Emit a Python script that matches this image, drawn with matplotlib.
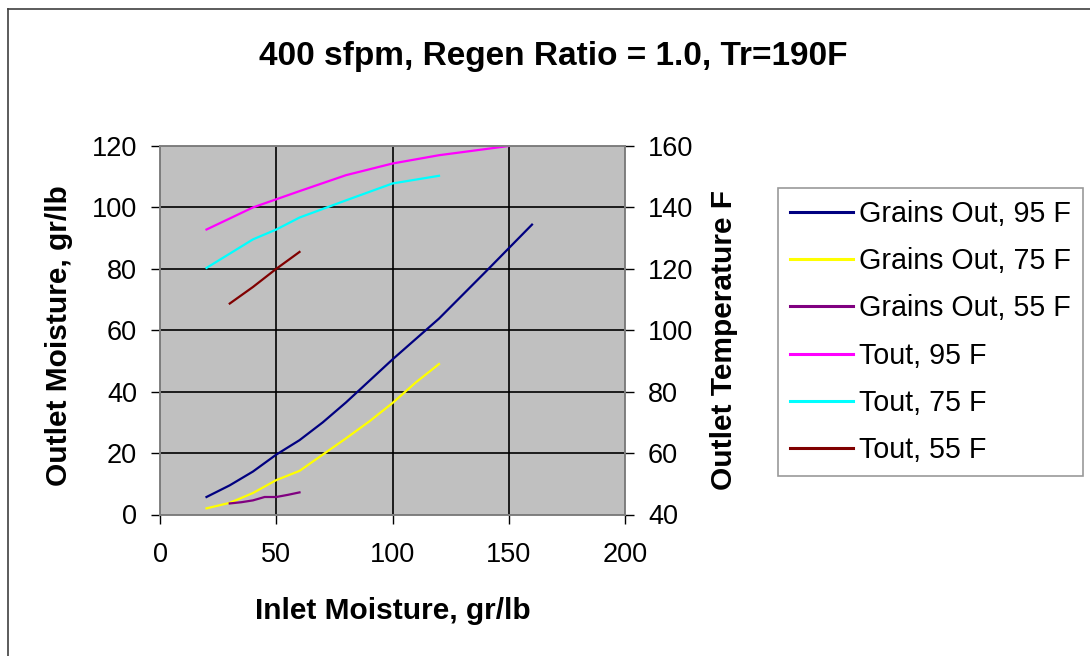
import matplotlib.pyplot as plt
from matplotlib.lines import Line2D

plt.rcParams['font.family'] = ['Liberation Sans', 'DejaVu Sans']

# Outlet moisture (left axis, gr/lb)
x_g95 = [20, 30, 40, 50, 60, 70, 80, 100, 120, 140, 160]
y_g95 = [5.7, 9.5, 14, 19.5, 24.2, 30, 36.5, 50.5, 63.8, 79, 94.4]
x_g75 = [20, 30, 40, 50, 60, 70, 80, 90, 100, 110, 120]
y_g75 = [2, 3.8, 7, 11.2, 14.2, 19.5, 24.8, 30.3, 36.3, 43, 49]
x_g55 = [30, 35, 40, 45, 50, 55, 60]
y_g55 = [3.6, 4.0, 4.6, 5.7, 5.7, 6.4, 7.2]

# Outlet temperature (right axis, F)
x_t95 = [20, 40, 60, 80, 100, 120, 150]
y_t95 = [132.8, 140, 145.3, 150.5, 154.3, 157, 160]
x_t75 = [20, 40, 50, 60, 70, 80, 100, 120]
y_t75 = [120.3, 129.6, 132.8, 136.7, 139.5, 142.3, 147.8, 150.3]
x_t55 = [30, 40, 50, 60]
y_t55 = [108.7, 114.1, 120, 125.5]

W, H = 1090, 656
fig = plt.figure(figsize=(W / 100, H / 100), dpi=100)
ax = fig.add_axes([160 / W, 1 - 514.5 / H, 465 / W, 368.5 / H])
ax2 = ax.twinx()

ax.set_facecolor('#C0C0C0')
lw = 1.6
ax.plot(x_g95, y_g95, color='#000080', lw=lw)
ax.plot(x_g75, y_g75, color='#FFFF00', lw=lw)
ax.plot(x_g55, y_g55, color='#800080', lw=lw)
ax2.plot(x_t95, y_t95, color='#FF00FF', lw=lw)
ax2.plot(x_t75, y_t75, color='#00FFFF', lw=lw)
ax2.plot(x_t55, y_t55, color='#800000', lw=lw)

ax.set_xlim(0, 200)
ax.set_ylim(0, 120)
ax2.set_ylim(40, 160)
ax.set_xticks(range(0, 201, 50))
ax.set_yticks(range(0, 121, 20))
ax2.set_yticks(range(40, 161, 20))
ax.grid(True, color='black', lw=1.2)
ax.set_axisbelow(True)

for a in (ax, ax2):
    a.tick_params(labelsize=19.5, length=6.5, width=1, color='black', pad=10)
    for s in a.spines.values():
        s.set_color('#808080')
        s.set_linewidth(1.2)
ax.tick_params(axis='x', pad=13)

fig.text(392.5 / W, 1 - 619 / H, 'Inlet Moisture, gr/lb', fontsize=21.5,
         fontweight='bold', ha='center', va='baseline')
fig.text(59 / W, 1 - 336 / H, 'Outlet Moisture, gr/lb', fontsize=21.5,
         fontweight='bold', ha='center', va='center', rotation=90)
fig.text(724 / W, 1 - 340 / H, 'Outlet Temperature F', fontsize=21.5,
         fontweight='bold', ha='center', va='center', rotation=90)
fig.text(553.5 / W, 1 - 65 / H, '400 sfpm, Regen Ratio = 1.0, Tr=190F',
         fontsize=24, fontweight='bold', ha='center', va='baseline')

labels = ['Grains Out, 95 F', 'Grains Out, 75 F', 'Grains Out, 55 F',
          'Tout, 95 F', 'Tout, 75 F', 'Tout, 55 F']
colors = ['#000080', '#FFFF00', '#800080', '#FF00FF', '#00FFFF', '#800000']
handles = [Line2D([], [], color=c, lw=2.2) for c in colors]
leg = fig.legend(handles, labels, loc='upper left', bbox_to_anchor=(778 / W, 1 - 188 / H),
                 fontsize=20.6, frameon=True, fancybox=False, handlelength=2.2,
                 handletextpad=0.2, labelspacing=0.67, borderpad=0.42, borderaxespad=0)
leg.get_frame().set_edgecolor('#808080')
leg.get_frame().set_linewidth(1.2)

# outer chart frame (left and top edges visible)
fig.add_artist(Line2D([8 / W, 8 / W], [0, 1 - 9 / H], color='#404040', lw=1.2))
fig.add_artist(Line2D([8 / W, 1], [1 - 9 / H, 1 - 9 / H], color='#404040', lw=1.2))

plt.savefig('out.png', dpi=100)
